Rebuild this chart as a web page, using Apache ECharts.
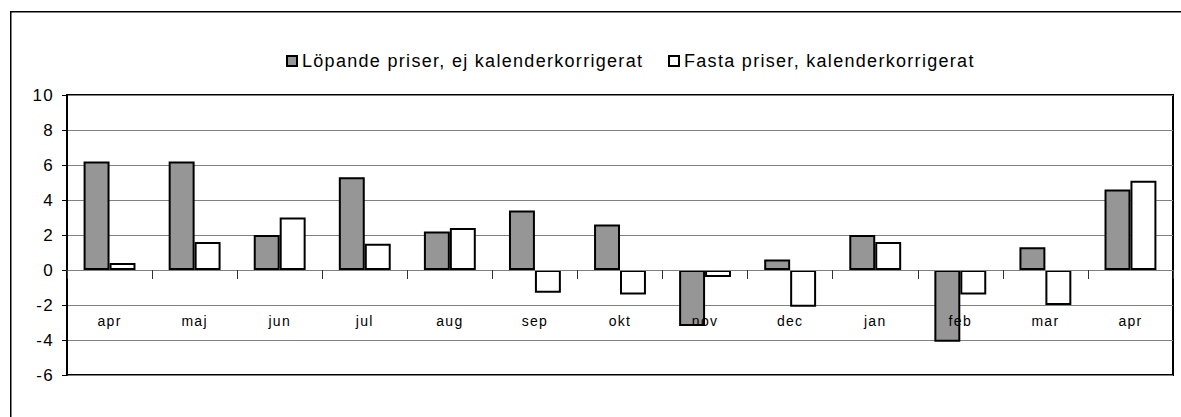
<!DOCTYPE html>
<html>
<head>
<meta charset="utf-8">
<script src="https://cdn.jsdelivr.net/npm/echarts@6/dist/echarts.min.js"></script>
<style>
html,body{margin:0;padding:0;background:#fff;}
#c{width:1181px;height:417px;}
#c svg text{letter-spacing:1.3px;}
</style>
</head>
<body>
<div id="c"></div>
<script>
const categories = ['apr','maj','jun','jul','aug','sep','okt','nov','dec','jan','feb','mar','apr'];
const lopande = [6.2, 6.2, 2.0, 5.3, 2.2, 3.4, 2.6, -3.2, 0.6, 2.0, -4.1, 1.3, 4.6];
const fasta = [0.4, 1.6, 3.0, 1.5, 2.4, -1.3, -1.4, -0.4, -2.1, 1.6, -1.4, -2.0, 5.1];
const seriesNames = ['Löpande priser, ej kalenderkorrigerat', 'Fasta priser, kalenderkorrigerat'];
const yTicks = {min: -6, max: 10, step: 2};

const FONT = 'Liberation Sans, Arial, sans-serif';
const chart = echarts.init(document.getElementById('c'), null, {renderer: 'svg'});
const legendBase = {
  top: 52, orient: 'horizontal', padding: 0,
  itemWidth: 10, itemHeight: 10, icon: 'rect',
  textStyle: {fontSize: 18, color: '#000', fontFamily: FONT}
};
chart.setOption({
  animation: false,
  backgroundColor: '#fff',
  textStyle: {fontFamily: FONT},
  graphic: [{
    type: 'rect', left: 10, top: 11, z: -10,
    shape: {width: 1200, height: 500},
    style: {fill: '#fff', stroke: '#000', lineWidth: 1.5}
  }],
  legend: [
    Object.assign({}, legendBase, {left: 286, data: [seriesNames[0]]}),
    Object.assign({}, legendBase, {left: 668, data: [seriesNames[1]]})
  ],
  grid: {left: 67, right: 8, top: 95, bottom: 42, containLabel: false, outerBoundsMode: 'none',
         show: true, borderColor: '#000', borderWidth: 2, backgroundColor: 'transparent'},
  xAxis: {
    type: 'category',
    data: categories,
    z: 5,
    axisLine: {onZero: true, lineStyle: {color: '#808080', width: 1}},
    axisTick: {show: true, alignWithLabel: false, inside: false, length: 9, lineStyle: {color: '#333'}},
    axisLabel: {margin: -61, fontSize: 14, color: '#000', fontFamily: FONT}
  },
  yAxis: {
    type: 'value', min: yTicks.min, max: yTicks.max, interval: yTicks.step,
    axisLine: {show: true, lineStyle: {color: '#000', width: 2}},
    axisTick: {show: true, length: 5, lineStyle: {color: '#000'}},
    axisLabel: {fontSize: 17, color: '#000', margin: 13, fontFamily: FONT},
    splitLine: {show: true, lineStyle: {color: '#808080', width: 1}}
  },
  series: [
    {
      name: seriesNames[0], type: 'bar', data: lopande,
      barGap: '0%', barCategoryGap: '39%',
      itemStyle: {color: '#969696', borderColor: '#000', borderWidth: 2}
    },
    {
      name: seriesNames[1], type: 'bar', data: fasta,
      itemStyle: {color: '#fff', borderColor: '#000', borderWidth: 2}
    }
  ]
});
</script>
</body>
</html>
